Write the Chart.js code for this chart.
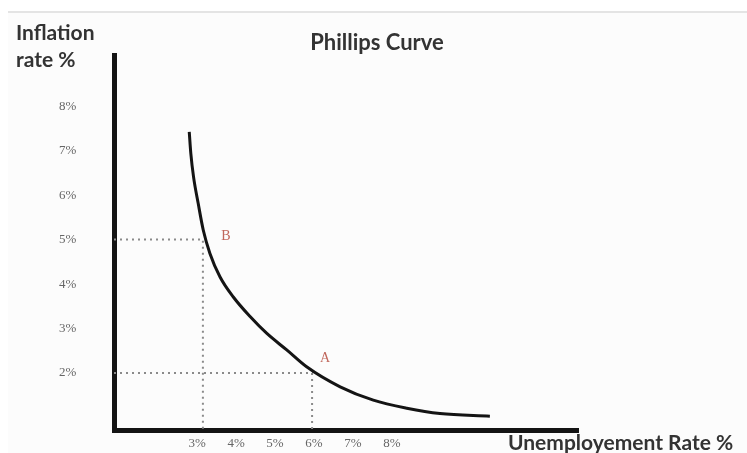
<!DOCTYPE html>
<html>
<head>
<meta charset="utf-8">
<script src="https://cdn.jsdelivr.net/npm/chart.js@4.4.1/dist/chart.umd.min.js"></script>
<style>
  html, body { margin: 0; padding: 0; background: #fff; }
  #wrap { width: 747px; height: 453px; position: relative; }
</style>
</head>
<body>
<div id="wrap"><canvas id="phillips" width="747" height="453"></canvas></div>
<script>
// Phillips curve (unemployment %, inflation %)
const curveX = [2.80, 2.84, 2.91, 3.03, 3.16, 3.33, 3.59, 3.93, 4.36, 4.79, 5.30, 5.81, 6.67, 7.52, 8.38, 9.23, 10.51];
const curveY = [7.42, 6.94, 6.41, 5.81, 5.21, 4.69, 4.16, 3.71, 3.27, 2.89, 2.52, 2.14, 1.69, 1.39, 1.21, 1.09, 1.03];

// tick labels
const xTicks = [3, 4, 5, 6, 7, 8];
const yTicks = [2, 3, 4, 5, 6, 7, 8];

// marked points B and A: where the dotted guides meet
const pointNames = ['B', 'A'];
const pointX = [3.15, 5.95];
const pointY = [5, 2];

// axis ranges
const xMin = 0.87, xMax = 12.77;
const yMin = 0.72, yMax = 9.15;

const curve = curveX.map((x, i) => ({ x: x, y: curveY[i] }));

// dotted guide lines from each point to both axes
const guides = [];
pointX.forEach((x, i) => {
    guides.push({
        data: [{ x: xMin, y: pointY[i] }, { x: x, y: pointY[i] }, { x: x, y: yMin }],
        showLine: true,
        borderColor: '#8a8a8a',
        borderWidth: 2,
        borderDash: [2, 4],
        pointRadius: 0,
        tension: 0
    });
});

// labels and the page frame
const extras = {
    id: 'extras',
    beforeDraw(chart) {
        const c = chart.ctx;
        c.save();
        c.fillStyle = '#fff';
        c.fillRect(0, 0, chart.width, chart.height);
        c.fillStyle = '#fcfcfc';
        c.fillRect(8, 13, chart.width - 8, chart.height - 13);
        c.strokeStyle = '#e4e4e4';
        c.lineWidth = 2;
        c.beginPath();
        c.moveTo(8, 12);
        c.lineTo(chart.width, 12);
        c.stroke();
        c.restore();
    },
    afterDraw(chart) {
        const c = chart.ctx;
        const xs = chart.scales.x, ys = chart.scales.y;
        c.save();
        c.fillStyle = '#333';
        c.font = 'bold 21px Lato';
        c.textBaseline = 'middle';
        c.textAlign = 'left';
        c.fillText('Inflation', 16, 33);
        c.fillText('rate %', 16, 60);
        c.textAlign = 'center';
        c.font = 'bold 22px Lato';
        c.fillText('Phillips Curve', 377, 43);
        c.textAlign = 'left';
        c.font = 'bold 21px Lato';
        c.fillText('Unemployement Rate %', 508, 443);
        // point letters
        c.fillStyle = '#c0675c';
        c.font = '14px "Liberation Serif"';
        c.textAlign = 'center';
        const offs = [[23, -3], [13, -15]];
        pointNames.forEach((n, i) => {
            c.fillText(n, xs.getPixelForValue(pointX[i]) + offs[i][0], ys.getPixelForValue(pointY[i]) + offs[i][1]);
        });
        c.restore();
    }
};

new Chart(document.getElementById('phillips'), {
    type: 'scatter',
    data: {
        datasets: [
            {
                data: curve,
                showLine: true,
                borderColor: '#141414',
                borderWidth: 3,
                pointRadius: 0,
                cubicInterpolationMode: 'monotone'
            },
            ...guides
        ]
    },
    options: {
        responsive: false,
        animation: false,
        layout: { padding: { top: 55, right: 169, bottom: 0, left: 59 } },
        plugins: { legend: { display: false }, tooltip: { enabled: false } },
        scales: {
            x: {
                type: 'linear',
                min: xMin,
                max: xMax,
                afterBuildTicks: s => { s.ticks = xTicks.map(v => ({ value: v })); },
                afterFit: s => { s.height = 23; },
                grid: { display: false, drawTicks: false },
                border: { display: true, width: 5, color: '#141414' },
                ticks: {
                    padding: 6,
                    color: '#666',
                    font: { family: 'Liberation Serif', size: 13 },
                    maxRotation: 0,
                    callback: v => v + '%'
                }
            },
            y: {
                type: 'linear',
                min: yMin,
                max: yMax,
                afterBuildTicks: s => { s.ticks = yTicks.map(v => ({ value: v })); },
                afterFit: s => { s.width = 55; },
                grid: { display: false, drawTicks: false },
                border: { display: true, width: 5, color: '#141414' },
                ticks: {
                    // tick padding would also pad the bottom of the plot, so labels sit at the far edge instead
                    padding: 0,
                    crossAlign: 'far',
                    color: '#666',
                    font: { family: 'Liberation Serif', size: 13 },
                    callback: v => v + '%'
                }
            }
        }
    },
    plugins: [extras]
});
</script>
</body>
</html>
